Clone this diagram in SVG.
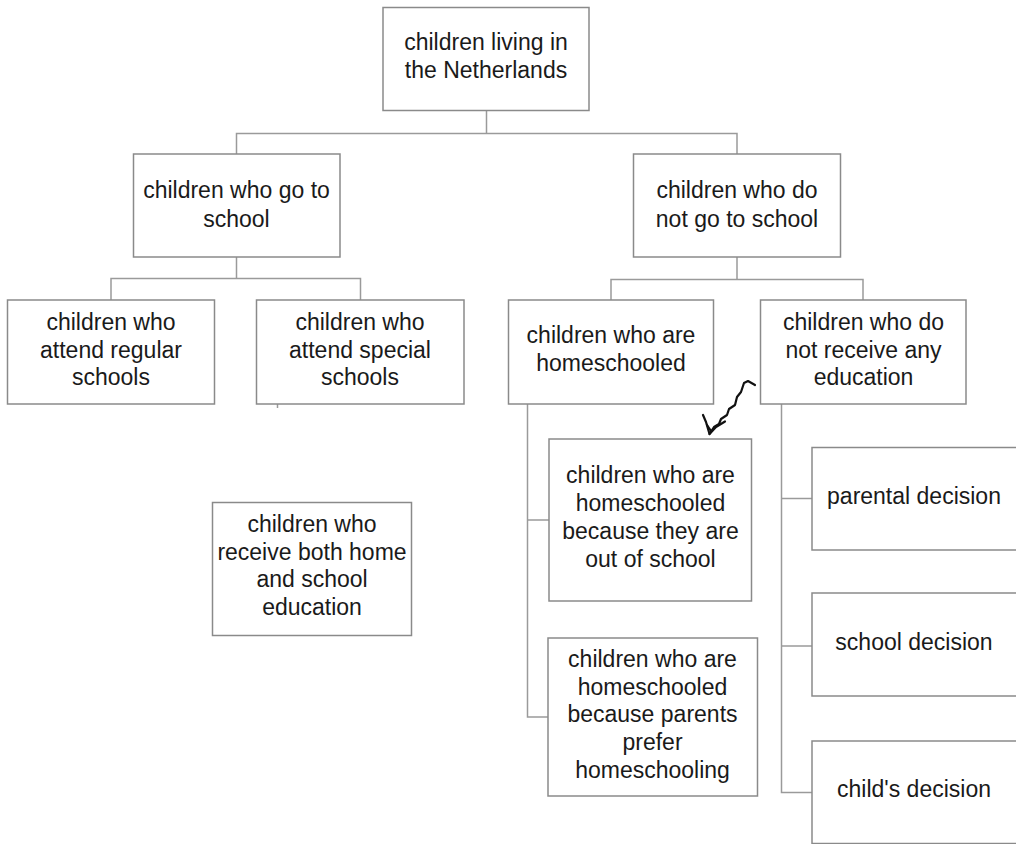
<svg xmlns="http://www.w3.org/2000/svg" width="1016" height="844" viewBox="0 0 1016 844">
<style>
.box{fill:#fff;stroke:#8a8a8a;stroke-width:1.5}
.lbl{font-family:"Liberation Sans",Arial,sans-serif;font-size:23px;fill:#1a1a1a;text-anchor:middle}
.con{fill:none;stroke:#9a9a9a;stroke-width:1.5}
</style>
<rect width="1016" height="844" fill="#fff"/>
<g id="connectors">
<path class="con" d="M486.5 111V133.5M236.5 154V133.5H737V154"/>
<path class="con" d="M236.5 257V278.5M111 300V278.5H360.5V300"/>
<path class="con" d="M737 257V279.5M611 300V279.5H863V300"/>
<path class="con" d="M527.5 404V717H548M527.5 520H549"/>
<path class="con" d="M781.5 404V792.5H812M781.5 498.5H812M781.5 646H812"/>
<path class="con" d="M277.5 404V408"/>
</g>
<g id="n-root"><rect class="box" x="383" y="7.5" width="206" height="103"/><text class="lbl"><tspan x="486" y="50">children living in</tspan><tspan x="486" y="78">the Netherlands</tspan></text></g>
<g id="n-school"><rect class="box" x="133.5" y="154" width="206.5" height="103"/><text class="lbl"><tspan x="236.5" y="198">children who go to</tspan><tspan x="236.5" y="227">school</tspan></text></g>
<g id="n-noschool"><rect class="box" x="633.5" y="154" width="207" height="103"/><text class="lbl"><tspan x="737" y="198">children who do</tspan><tspan x="737" y="227">not go to school</tspan></text></g>
<g id="n-regular"><rect class="box" x="7.5" y="300" width="207" height="104"/><text class="lbl"><tspan x="111" y="330">children who</tspan><tspan x="111" y="357.5">attend regular</tspan><tspan x="111" y="385">schools</tspan></text></g>
<g id="n-special"><rect class="box" x="256.5" y="300" width="207.5" height="104"/><text class="lbl"><tspan x="360" y="330">children who</tspan><tspan x="360" y="357.5">attend special</tspan><tspan x="360" y="385">schools</tspan></text></g>
<g id="n-home"><rect class="box" x="508.5" y="300" width="205" height="104"/><text class="lbl"><tspan x="611" y="343">children who are</tspan><tspan x="611" y="371">homeschooled</tspan></text></g>
<g id="n-noedu"><rect class="box" x="760.5" y="300" width="205.5" height="104"/><text class="lbl"><tspan x="863.5" y="330">children who do</tspan><tspan x="863.5" y="357.5">not receive any</tspan><tspan x="863.5" y="385">education</tspan></text></g>
<g id="n-out"><rect class="box" x="549" y="439" width="202.5" height="162"/><text class="lbl"><tspan x="650.5" y="483">children who are</tspan><tspan x="650.5" y="511">homeschooled</tspan><tspan x="650.5" y="539">because they are</tspan><tspan x="650.5" y="567">out of school</tspan></text></g>
<g id="n-prefer"><rect class="box" x="548" y="638" width="209.5" height="158"/><text class="lbl"><tspan x="652.5" y="667">children who are</tspan><tspan x="652.5" y="695">homeschooled</tspan><tspan x="652.5" y="722">because parents</tspan><tspan x="652.5" y="750">prefer</tspan><tspan x="652.5" y="778">homeschooling</tspan></text></g>
<g id="n-both"><rect class="box" x="212.5" y="502.5" width="199" height="133"/><text class="lbl"><tspan x="312" y="532">children who</tspan><tspan x="312" y="560">receive both home</tspan><tspan x="312" y="587">and school</tspan><tspan x="312" y="615">education</tspan></text></g>
<g id="n-parental"><rect class="box" x="812" y="447.5" width="220" height="102.5"/><text class="lbl"><tspan x="914" y="504">parental decision</tspan></text></g>
<g id="n-schooldec"><rect class="box" x="812" y="593" width="220" height="103"/><text class="lbl"><tspan x="914" y="650">school decision</tspan></text></g>
<g id="n-child"><rect class="box" x="812" y="741" width="220" height="102.5"/><text class="lbl"><tspan x="914" y="797">child's decision</tspan></text></g>
<g id="handarrow" fill="none" stroke="#111" stroke-width="2.2" stroke-linejoin="round" stroke-linecap="round">
<path d="M755 385L748 381L744 383L741 392L737 397L735 405L729 409L727 415L721 419L719 424L714 427L709.5 434"/>
<path d="M703 415L706 422L709.5 434L716 427L725 421.5"/>
<path d="M707 425L711 431"/>
</g>
</svg>
